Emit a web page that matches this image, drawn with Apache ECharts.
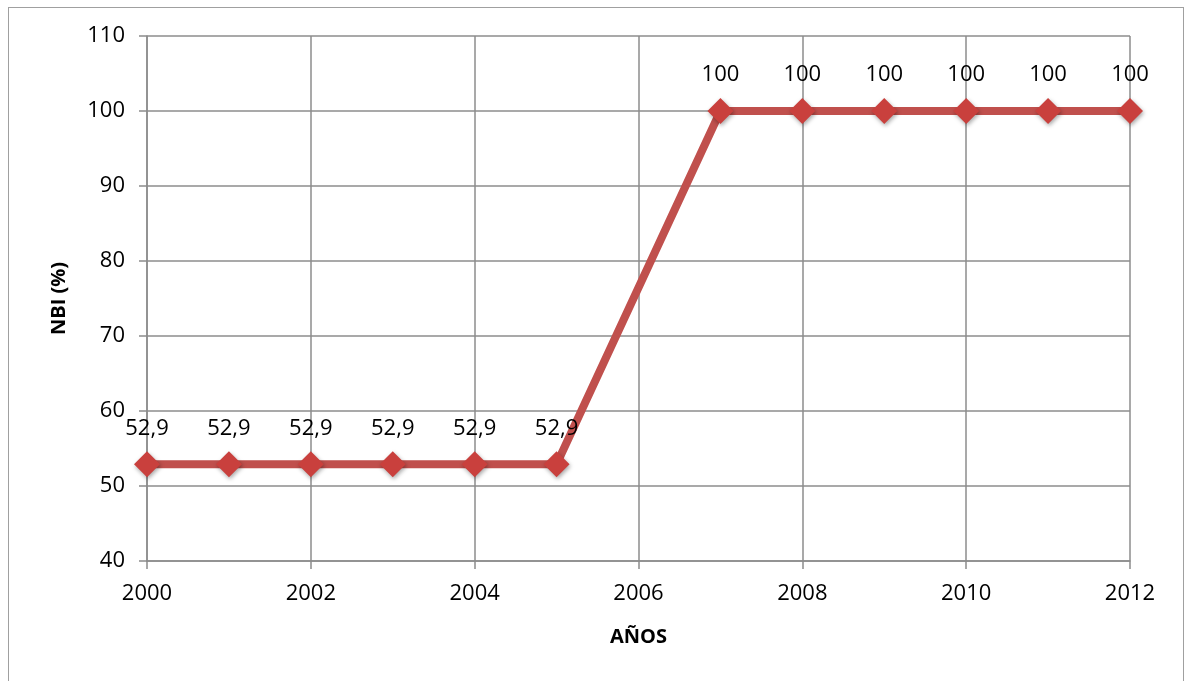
<!DOCTYPE html>
<html>
<head>
<meta charset="utf-8">
<script src="https://cdn.jsdelivr.net/npm/echarts@6/dist/echarts.min.js"></script>
<style>
html,body{margin:0;padding:0;background:#fff;}
#frame{position:absolute;left:8px;top:7px;width:1176px;height:680px;border:1.5px solid #a0a0a0;border-bottom:none;box-sizing:border-box;}
#chart{position:absolute;left:0;top:0;width:1186px;height:681px;}
</style>
</head>
<body>
<div id="frame"></div>
<div id="chart"></div>
<script>
const years = [2000, 2001, 2002, 2003, 2004, 2005, 2007, 2008, 2009, 2010, 2011, 2012];
const nbi = [52.9, 52.9, 52.9, 52.9, 52.9, 52.9, 100, 100, 100, 100, 100, 100];
const xTitle = 'AÑOS';
const yTitle = 'NBI (%)';

const chart = echarts.init(document.getElementById('chart'), null, {renderer: 'canvas'});
const font = '"Open Sans", "Noto Sans", sans-serif';
const gridColor = '#8c8c8c';
chart.setOption({
  animation: false,
  backgroundColor: 'transparent',
  textStyle: {fontFamily: font},
  grid: {left: 147, right: 56, top: 36, bottom: 120, containLabel: false},
  xAxis: {
    type: 'value', min: 2000, max: 2012, interval: 2,
    name: xTitle, nameLocation: 'middle', nameGap: 66,
    nameTextStyle: {fontFamily: font, fontWeight: 'bold', fontSize: 20, color: '#000'},
    axisLine: {show: true, lineStyle: {color: gridColor, width: 1.5}},
    axisTick: {show: true, length: 8, lineStyle: {color: gridColor, width: 1.5}},
    axisLabel: {fontFamily: font, fontSize: 22, color: '#000', margin: 22, formatter: v => String(v)},
    splitLine: {show: true, lineStyle: {color: gridColor, width: 1.5}}
  },
  yAxis: {
    type: 'value', min: 40, max: 110, interval: 10,
    name: yTitle, nameLocation: 'middle', nameGap: 78, nameRotate: 90,
    nameTextStyle: {fontFamily: font, fontWeight: 'bold', fontSize: 20, color: '#000'},
    axisLine: {show: true, lineStyle: {color: gridColor, width: 1.5}},
    axisTick: {show: true, length: 8, lineStyle: {color: gridColor, width: 1.5}},
    axisLabel: {fontFamily: font, fontSize: 22, color: '#000', margin: 22},
    splitLine: {show: true, lineStyle: {color: gridColor, width: 1.5}}
  },
  series: [{
    type: 'line',
    data: years.map((y, i) => [y, nbi[i]]),
    symbol: 'diamond',
    symbolSize: [26, 26],
    lineStyle: {color: '#c0504d', width: 8},
    itemStyle: {color: '#c9403d', shadowColor: 'rgba(0,0,0,0.35)', shadowBlur: 4, shadowOffsetX: 1, shadowOffsetY: 2},
    label: {
      show: true, position: 'top', distance: 12,
      fontFamily: font, fontSize: 22, color: '#000',
      formatter: p => String(p.value[1]).replace('.', ',')
    },
    z: 3
  }]
});
</script>
</body>
</html>
